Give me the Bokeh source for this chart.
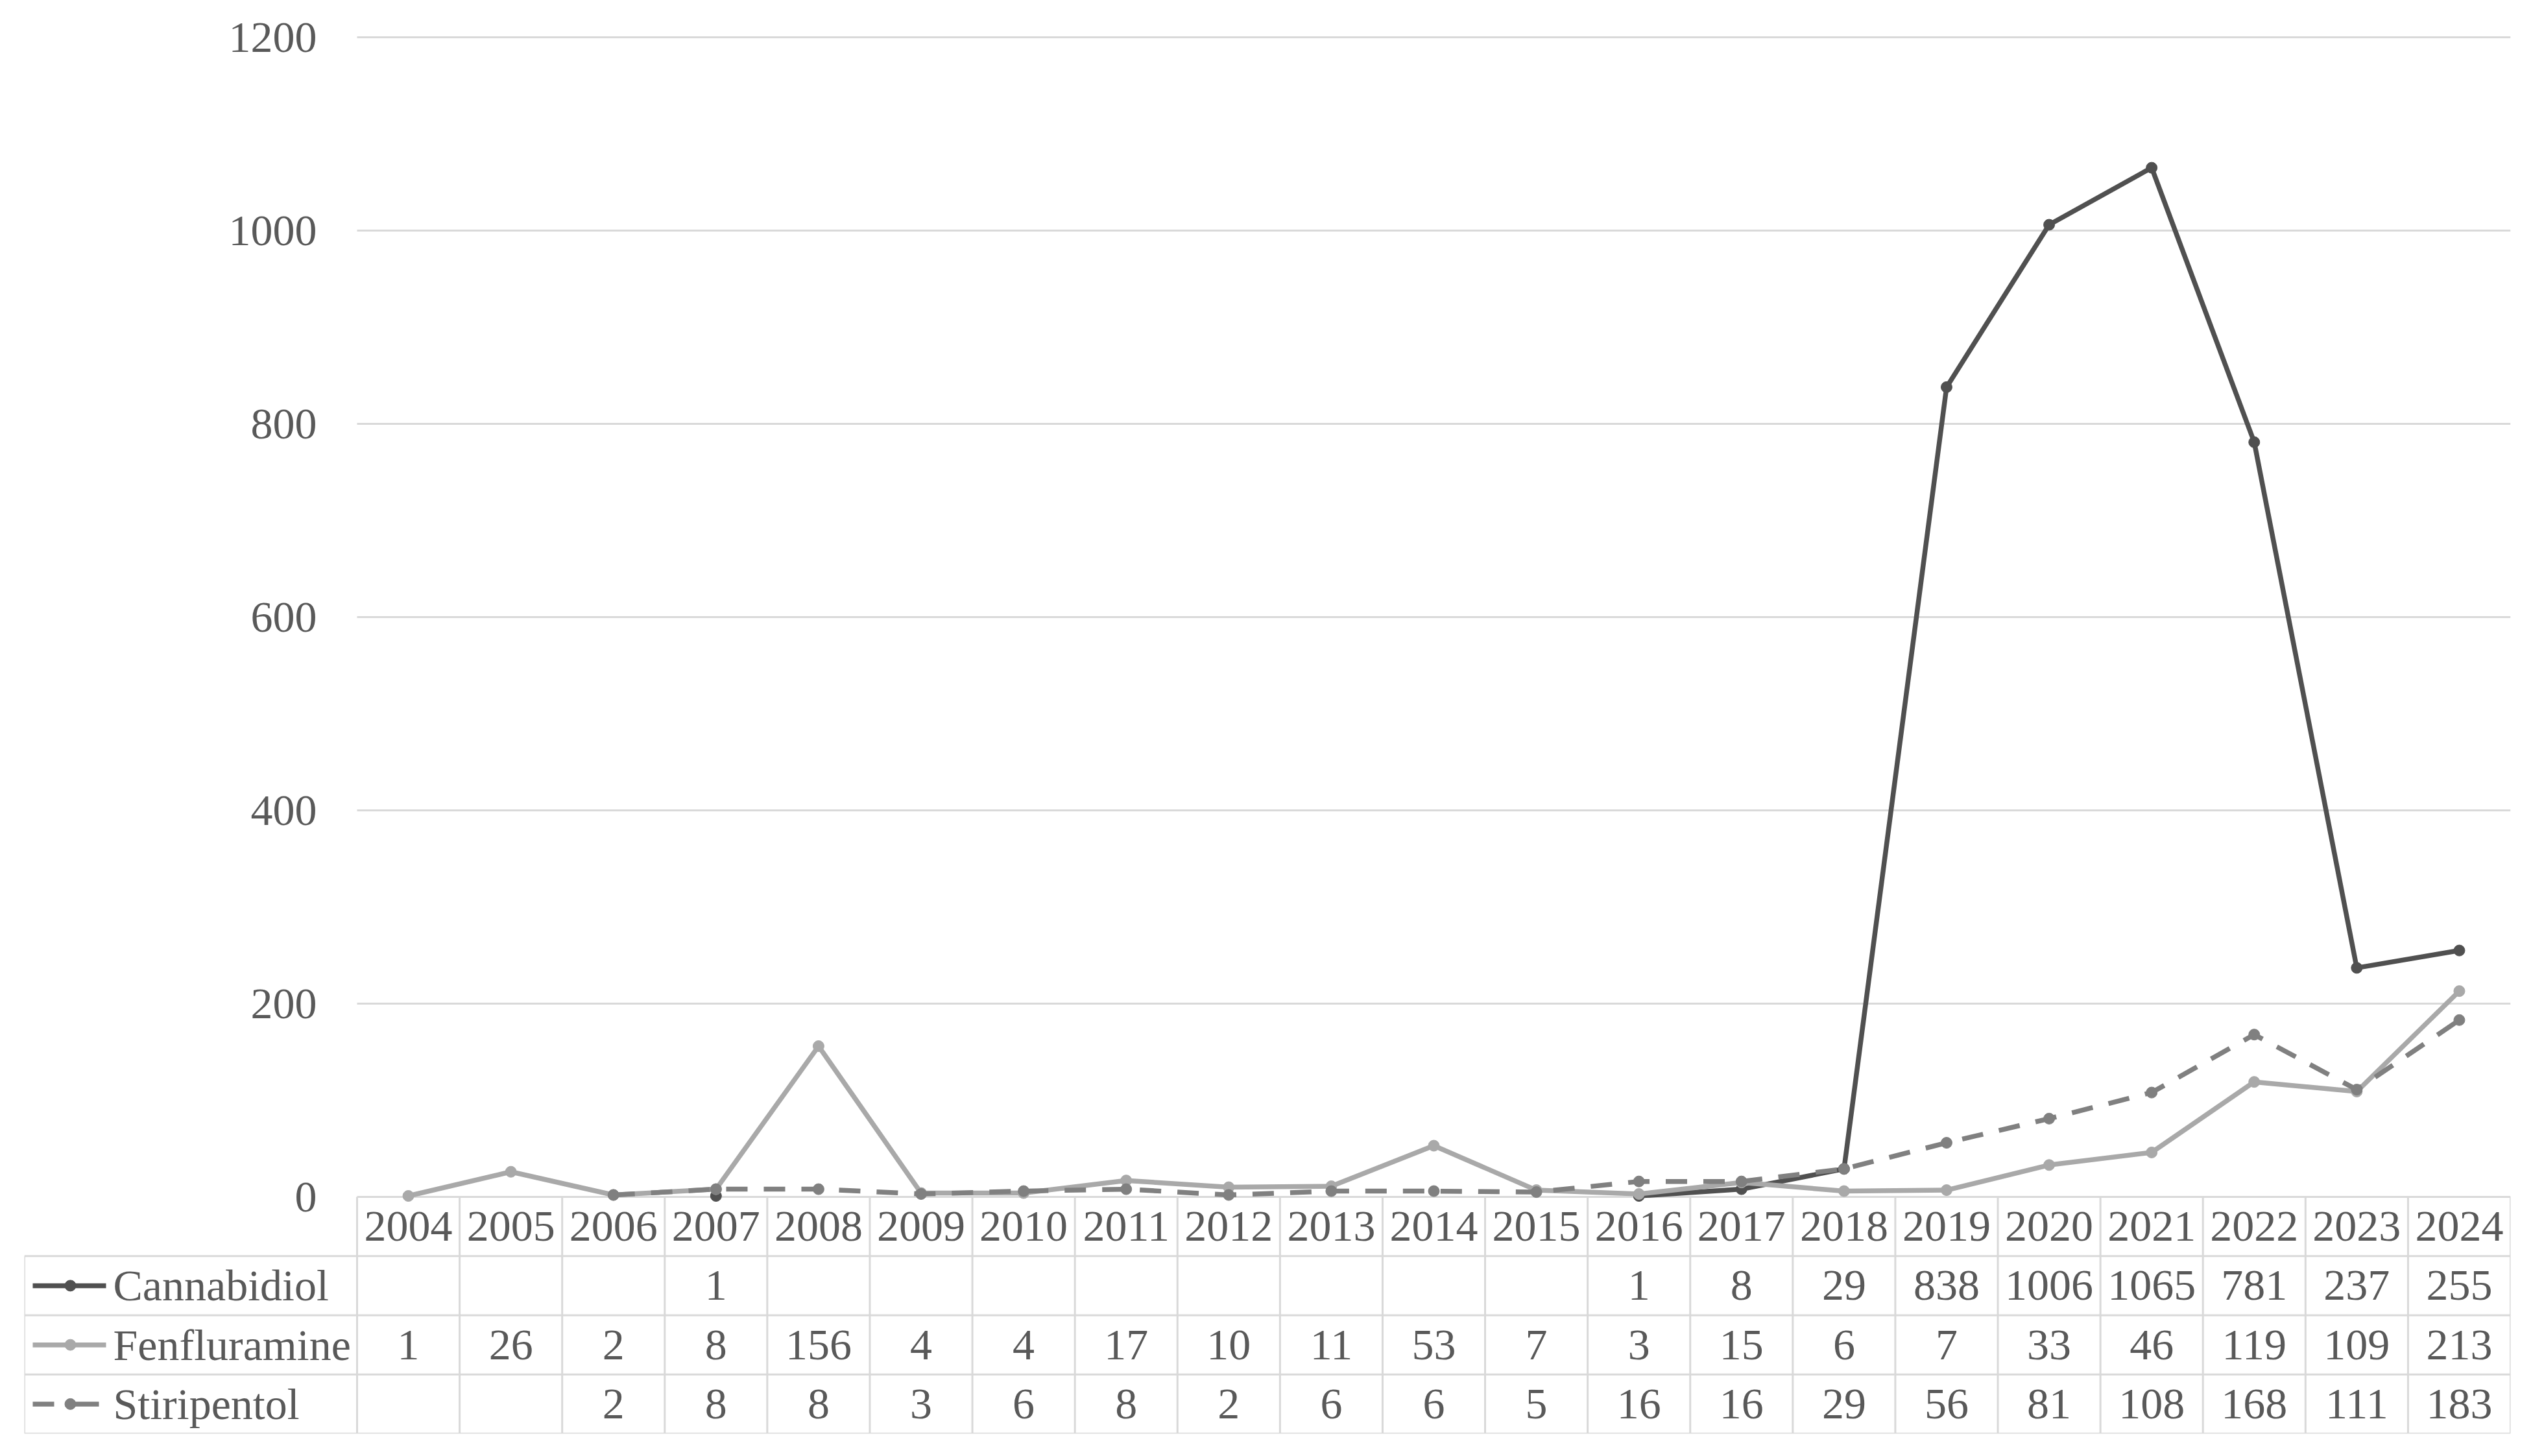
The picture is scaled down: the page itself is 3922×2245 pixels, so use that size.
import math
from bokeh.plotting import figure
from bokeh.models import Range1d
from bokeh.embed import file_html
from bokeh.resources import INLINE
from bokeh.core.properties import value

nan = float("nan")

# ---------------- data ----------------
years = [str(y) for y in range(2004, 2025)]
cannabidiol = [nan, nan, nan, 1, nan, nan, nan, nan, nan, nan, nan, nan,
               1, 8, 29, 838, 1006, 1065, 781, 237, 255]
fenfluramine = [1, 26, 2, 8, 156, 4, 4, 17, 10, 11, 53, 7,
                3, 15, 6, 7, 33, 46, 119, 109, 213]
stiripentol = [nan, nan, 2, 8, 8, 3, 6, 8, 2, 6, 6, 5,
               16, 16, 29, 56, 81, 108, 168, 111, 183]
series_names = ["Cannabidiol", "Fenfluramine", "Stiripentol"]
y_ticks = [0, 200, 400, 600, 800, 1000, 1200]

# ---------------- style / layout constants (page pixels) ----------------
FONT = "Liberation Serif"
FS = "68px"
TXT = "#595959"
GRID = "#D9D9D9"
colors = ["#505050", "#A9A9A9", "#808080"]
dashes = ["solid", "solid", "33 25"]
key_dashes = ["solid", "solid", "33 17 52 17"]
LW = 7.5
MS = 17

TABLE_L, PLOT_L, PLOT_R = 37, 550, 3870
FRAME_TOP, Y_TOP_PX, Y0_PX, TABLE_B = 20, 57, 1845, 2210
BORDER_R, BORDER_B = 30, 15
N_ROWS = 4
ROW_H = (TABLE_B - Y0_PX) / N_ROWS

W = PLOT_R + BORDER_R
H = TABLE_B + BORDER_B

n = len(years)
COL_W = (PLOT_R - PLOT_L) / n
legend_w = (PLOT_L - TABLE_L) / COL_W

y_max = max(y_ticks)
px_per_unit = (Y0_PX - Y_TOP_PX) / y_max
y_lo = -(TABLE_B - Y0_PX) / px_per_unit
y_hi = y_max + (Y_TOP_PX - FRAME_TOP) / px_per_unit

p = figure(width=W, height=H,
           x_range=Range1d(-legend_w, n),
           y_range=Range1d(y_lo, y_hi),
           x_axis_location=None, y_axis_location=None,
           output_backend="svg", toolbar_location=None,
           min_border_left=TABLE_L, min_border_right=BORDER_R,
           min_border_top=FRAME_TOP, min_border_bottom=BORDER_B)
p.outline_line_color = None
p.grid.visible = False

# table coordinate system: row 0 = header (years) directly under y=0
table_top = -(Y0_PX - FRAME_TOP) / ROW_H
p.extra_y_ranges = {"table": Range1d(N_ROWS, table_top)}

# ---------------- y gridlines and tick labels ----------------
p.segment(x0=[0] * len(y_ticks), y0=y_ticks, x1=[n] * len(y_ticks), y1=y_ticks,
          line_color=GRID, line_width=3)
label_x = -legend_w + (488 - TABLE_L) / COL_W
p.text(x=[label_x] * len(y_ticks), y=y_ticks, text=[str(v) for v in y_ticks],
       text_font=value(FONT), text_font_size=FS, text_color=TXT,
       text_align="right", text_baseline="middle")

# ---------------- table borders ----------------
hx0, hy0, hx1, hy1 = [], [], [], []
for r in range(1, N_ROWS + 1):
    hx0.append(-legend_w); hx1.append(n); hy0.append(r); hy1.append(r)
for i in range(n + 1):
    hx0.append(i); hx1.append(i); hy0.append(0); hy1.append(N_ROWS)
hx0.append(-legend_w); hx1.append(-legend_w); hy0.append(1); hy1.append(N_ROWS)
p.segment(x0=hx0, y0=hy0, x1=hx1, y1=hy1, line_color=GRID, line_width=3,
          y_range_name="table")

# header years
p.text(x=[i + 0.5 for i in range(n)], y=[0.5] * n, text=years,
       text_font=value(FONT), text_font_size=FS, text_color=TXT,
       text_align="center", text_baseline="middle", y_range_name="table")

series = [cannabidiol, fenfluramine, stiripentol]

# values in table
for r, vals in enumerate(series):
    xs, ys, labels = [], [], []
    for i, v in enumerate(vals):
        if not math.isnan(v):
            xs.append(i + 0.5)
            ys.append(r + 1.5)
            labels.append(str(int(v)))
    p.text(x=xs, y=ys, text=labels,
           text_font=value(FONT), text_font_size=FS, text_color=TXT,
           text_align="center", text_baseline="middle", y_range_name="table")

# legend keys + names
for r, (name, c, d) in enumerate(zip(series_names, colors, key_dashes)):
    yc = r + 1.5
    key_end = 152 if d != "solid" else 163
    p.line(x=[-legend_w + (50 - TABLE_L) / COL_W, -legend_w + (key_end - TABLE_L) / COL_W],
           y=[yc, yc], line_color=c, line_width=LW, line_dash=d, y_range_name="table")
    p.scatter(x=[-legend_w + (108 - TABLE_L) / COL_W], y=[yc], size=MS, fill_color=c,
              line_color=c, y_range_name="table")
    p.text(x=[-legend_w + (174 - TABLE_L) / COL_W], y=[yc], text=[name],
           text_font=value(FONT), text_font_size=FS, text_color=TXT,
           text_align="left", text_baseline="middle", y_range_name="table")

# ---------------- series lines ----------------
xc = [i + 0.5 for i in range(n)]
for name, vals, c, d in zip(series_names, series, colors, dashes):
    p.line(x=xc, y=vals, line_color=c, line_width=LW, line_dash=d)
    p.scatter(x=xc, y=vals, size=MS, fill_color=c, line_color=c)

open("out.html", "w").write(file_html(p, INLINE))
